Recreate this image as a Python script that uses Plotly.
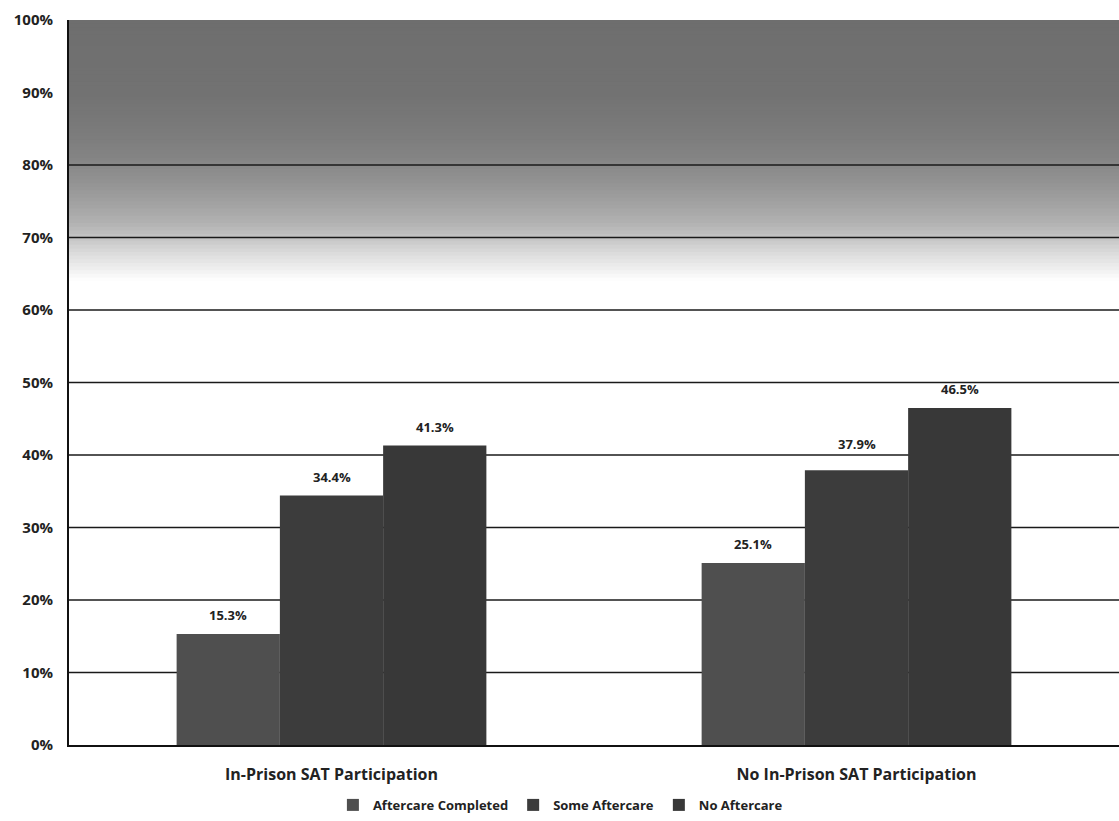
import plotly.graph_objects as go

# Recidivism rates by in-prison SAT participation and aftercare status
categories = ["In-Prison SAT Participation", "No In-Prison SAT Participation"]
series_names = ["Aftercare Completed", "Some Aftercare", "No Aftercare"]
aftercare_completed = [15.3, 25.1]
some_aftercare = [34.4, 37.9]
no_aftercare = [41.3, 46.5]
tick_values = [0, 10, 20, 30, 40, 50, 60, 70, 80, 90, 100]
tick_labels = ["0%", "10%", "20%", "30%", "40%", "50%", "60%", "70%", "80%", "90%", "100%"]

series_values = [aftercare_completed, some_aftercare, no_aftercare]
series_colors = ["#4f4f4f", "#3c3c3c", "#383838"]

FONT = "'Open Sans', sans-serif"
TEXT_COLOR = "#222222"
BARGAP = 0.41
LABEL_GAP = 8
# extra lift for labels that would otherwise sit on a gridline: (series, category) -> px
label_lift = {(1, 1): 7}

cat_pos = list(range(len(categories)))
bar_w = (1 - BARGAP) / len(series_names)

fig = go.Figure()
annotations = []
for j, (name, vals, color) in enumerate(zip(series_names, series_values, series_colors)):
    fig.add_trace(go.Bar(
        x=cat_pos,
        y=vals,
        name=name,
        marker=dict(color=color, line=dict(width=0)),
    ))
    # value labels sitting a little above each bar
    for i, v in zip(cat_pos, vals):
        annotations.append(dict(
            x=i + (j - (len(series_names) - 1) / 2) * bar_w,
            y=v, xref="x", yref="y",
            text=f"<b>{v:.1f}%</b>",
            showarrow=False, yanchor="bottom",
            yshift=LABEL_GAP + label_lift.get((j, i), 0),
            font=dict(family=FONT, size=13, color=TEXT_COLOR),
        ))

# Grey band shading the upper part of the plot, fading toward white
def band_color(level):
    stops = [(64, 255), (66, 236), (68, 218), (70, 196), (72, 178), (75, 160),
             (78, 145), (81, 132), (85, 122), (90, 114), (100, 110)]
    for (y0, c0), (y1, c1) in zip(stops[:-1], stops[1:]):
        if y0 <= level <= y1:
            t = (level - y0) / (y1 - y0)
            return int(round(c0 + (c1 - c0) * t))
    return 110

BAND_TOP = 100.3
shapes = []
step = 0.5
lv = 64.0
while lv < 100:
    g = band_color(lv + step / 2)
    # each strip runs to the top so neighbouring strips overlap without seams
    shapes.append(dict(
        type="rect", xref="paper", yref="y", x0=0, x1=1, y0=lv, y1=BAND_TOP,
        fillcolor=f"rgb({g},{g},{g})", line=dict(width=0), layer="below",
    ))
    lv += step

# horizontal gridlines; the darkest part of the band hides the upper ones
for tv in tick_values:
    if 0 < tv < 85:
        shapes.append(dict(
            type="line", xref="paper", yref="y", x0=0, x1=1, y0=tv, y1=tv,
            line=dict(color="#1a1a1a", width=1.6), layer="below",
        ))

fig.update_layout(
    width=1119,
    height=821,
    margin=dict(l=69, r=0, t=20, b=76),
    paper_bgcolor="white",
    plot_bgcolor="white",
    barmode="group",
    bargap=BARGAP,
    bargroupgap=0,
    shapes=shapes,
    annotations=annotations,
    font=dict(family=FONT, color=TEXT_COLOR),
    showlegend=True,
    legend=dict(
        orientation="h",
        x=0.468, xanchor="center",
        y=-0.062, yanchor="top",
        font=dict(family=FONT, size=13, color=TEXT_COLOR, weight="bold"),
        itemwidth=30,
        traceorder="normal",
    ),
    xaxis=dict(
        tickvals=cat_pos,
        ticktext=categories,
        range=[-0.5, len(categories) - 0.5],
        showgrid=False,
        showline=True,
        linecolor="#111111",
        linewidth=2,
        zeroline=False,
        ticks="",
        tickfont=dict(family=FONT, size=16, color=TEXT_COLOR, weight="bold"),
        ticklabelstandoff=14,
    ),
    yaxis=dict(
        range=[0, 100],
        tickvals=tick_values,
        ticktext=tick_labels,
        showgrid=False,
        showline=True,
        linecolor="#111111",
        linewidth=2,
        zeroline=False,
        ticks="",
        tickfont=dict(family=FONT, size=15, color=TEXT_COLOR, weight="bold"),
        ticklabelstandoff=11,
    ),
)

fig.write_html("out.html")
